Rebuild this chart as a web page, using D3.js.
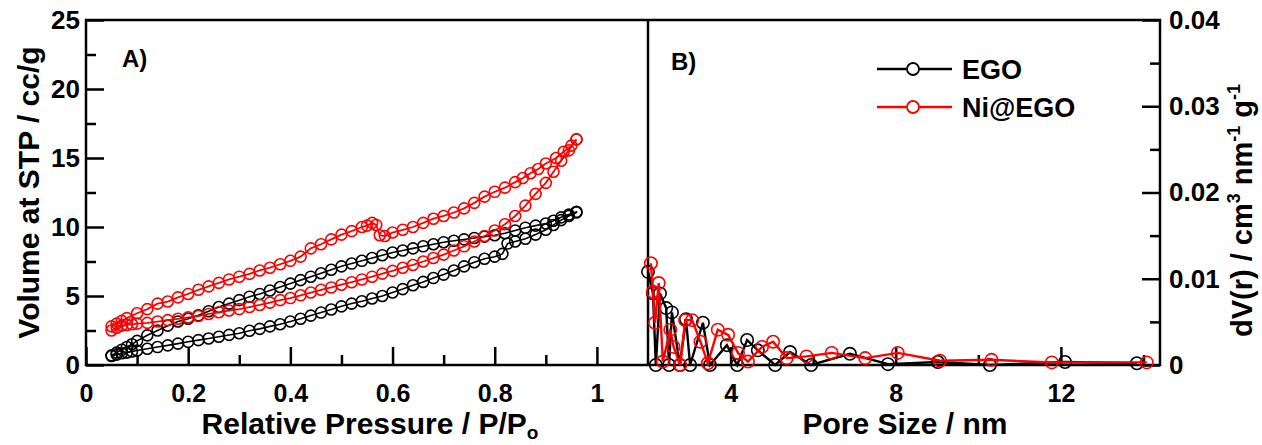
<!DOCTYPE html>
<html>
<head>
<meta charset="utf-8">
<script src="https://cdn.jsdelivr.net/npm/d3@7"></script>
<style>
body{margin:0;background:#fff}
text{font-family:"Liberation Sans",Arial,sans-serif;font-weight:bold;fill:#000}
</style>
</head>
<body>
<svg id="mainSVG"></svg>
<script>
// isotherms, [P/Po, cc/g]
let egoAds = [[0.05,0.65],[0.06,0.75],[0.07,0.85],[0.08,0.9],[0.09,0.98],[0.10,1.05],[0.12,1.18],[0.14,1.3],[0.16,1.42],[0.18,1.55],[0.20,1.68],[0.22,1.8],[0.24,1.92],[0.26,2.05],[0.28,2.18],[0.30,2.3],[0.32,2.48],[0.34,2.62],[0.36,2.8],[0.38,2.95],[0.40,3.15],[0.42,3.35],[0.44,3.58],[0.46,3.8],[0.48,4.02],[0.50,4.25],[0.52,4.45],[0.54,4.62],[0.56,4.82],[0.58,5.0],[0.60,5.25],[0.62,5.5],[0.64,5.78],[0.66,6.02],[0.68,6.3],[0.70,6.55],[0.72,6.85],[0.74,7.15],[0.76,7.45],[0.78,7.7],[0.80,7.85],[0.815,8.05],[0.825,8.8],[0.84,8.95],[0.86,9.15],[0.88,9.45],[0.90,9.8],[0.915,10.15],[0.93,10.5],[0.945,10.8],[0.96,11.05]]
let egoDes = [[0.96,11.1],[0.945,10.9],[0.93,10.7],[0.915,10.45],[0.90,10.25],[0.88,10.1],[0.86,9.95],[0.84,9.75],[0.82,9.55],[0.80,9.4],[0.78,9.3],[0.76,9.2],[0.74,9.1],[0.72,9.0],[0.70,8.9],[0.68,8.75],[0.66,8.6],[0.64,8.45],[0.62,8.3],[0.60,8.15],[0.58,7.95],[0.56,7.75],[0.54,7.55],[0.52,7.35],[0.50,7.15],[0.48,6.9],[0.46,6.65],[0.44,6.4],[0.42,6.15],[0.40,5.9],[0.38,5.65],[0.36,5.4],[0.34,5.15],[0.32,4.95],[0.30,4.7],[0.28,4.45],[0.26,4.2],[0.24,3.9],[0.22,3.6],[0.20,3.35],[0.18,3.15],[0.16,2.85],[0.14,2.5],[0.12,2.15],[0.10,1.75],[0.09,1.5],[0.08,1.3],[0.07,1.1],[0.06,0.9],[0.05,0.7]]
let niAds = [[0.05,2.5],[0.06,2.7],[0.07,2.85],[0.08,2.9],[0.09,2.95],[0.10,3.0],[0.12,3.05],[0.14,3.15],[0.16,3.25],[0.18,3.35],[0.20,3.45],[0.22,3.55],[0.24,3.7],[0.26,3.82],[0.28,3.95],[0.30,4.05],[0.32,4.2],[0.34,4.35],[0.36,4.52],[0.38,4.7],[0.40,4.85],[0.42,5.05],[0.44,5.25],[0.46,5.45],[0.48,5.62],[0.50,5.82],[0.52,6.0],[0.54,6.2],[0.56,6.4],[0.58,6.62],[0.60,6.82],[0.62,7.05],[0.64,7.25],[0.66,7.5],[0.68,7.75],[0.70,8.0],[0.72,8.3],[0.74,8.6],[0.76,8.95],[0.78,9.35],[0.80,9.75],[0.82,10.2],[0.84,10.8],[0.86,11.55],[0.88,12.4],[0.90,13.2],[0.915,14.0],[0.93,14.8],[0.945,15.55],[0.96,16.35]]
let niDes = [[0.96,16.35],[0.95,15.9],[0.935,15.45],[0.92,15.0],[0.90,14.6],[0.885,14.2],[0.87,13.9],[0.855,13.55],[0.84,13.25],[0.82,12.85],[0.80,12.55],[0.78,12.2],[0.76,11.75],[0.74,11.35],[0.72,11.05],[0.70,10.8],[0.68,10.6],[0.66,10.3],[0.64,10.0],[0.62,9.8],[0.60,9.6],[0.585,9.35],[0.575,9.4],[0.568,10.15],[0.56,10.3],[0.55,10.1],[0.54,10.0],[0.52,9.7],[0.50,9.45],[0.48,9.1],[0.46,8.75],[0.44,8.45],[0.42,7.85],[0.40,7.55],[0.38,7.3],[0.36,7.05],[0.34,6.85],[0.32,6.6],[0.30,6.4],[0.28,6.2],[0.26,5.95],[0.24,5.7],[0.22,5.45],[0.20,5.15],[0.18,4.9],[0.16,4.6],[0.14,4.45],[0.12,4.05],[0.10,3.75],[0.08,3.4],[0.07,3.2],[0.06,3.0],[0.05,2.8]]

// pore size distribution, [nm, cm3/nm/g]
let egoPsd = [[2.0,0.0108],[2.12,0.0083],[2.19,0],[2.29,0.0083],[2.44,0.0066],[2.51,0],[2.58,0.0061],[2.77,0],[2.92,0.0053],[3.02,0],[3.33,0.0049],[3.5,0],[3.91,0.0023],[4.16,0],[4.4,0.0029],[4.66,0.0017],[5.08,0],[5.44,0.0015],[5.95,0],[6.89,0.0013],[7.81,0.0001],[9.02,0.00035],[10.28,0],[12.1,0.00035],[13.84,0.0002]]
let niPsd = [[2.07,0.0118],[2.12,0.0085],[2.17,0.0049],[2.26,0.0095],[2.36,0.0004],[2.54,0.0041],[2.62,0.0021],[2.78,0],[2.9,0.0052],[3.07,0.0052],[3.27,0.0027],[3.45,0.0002],[3.69,0.0041],[3.94,0.0035],[4.18,0.0014],[4.42,0.0004],[4.76,0.0021],[5.03,0.0027],[5.36,0.0008],[5.84,0.001],[6.45,0.0014],[7.26,0.0008],[8.05,0.0014],[9.07,0.0005],[10.32,0.0006],[11.78,0.0003],[14.08,0.0003]]

let seriesNames = ['EGO', 'Ni@EGO']
let seriesColors = ['#000', '#f00']

let leftTicks = [0, 0.2, 0.4, 0.6, 0.8, 1]
let leftMinor = [0.1, 0.3, 0.5, 0.7, 0.9]
let volTicks = [0, 5, 10, 15, 20, 25]
let volMinor = [2.5, 7.5, 12.5, 17.5, 22.5]
let poreTicks = [4, 8, 12]
let poreMinor = [6, 10, 14]
let dvTicks = [0, 0.01, 0.02, 0.03, 0.04]
let dvMinor = [0.005, 0.015, 0.025, 0.035]

let w = 1262, h = 445
let m = {t: 20, b: 365, l: 86, mid: 648, r: 1160}

let svg = d3.select('#mainSVG').attr('width', w).attr('height', h)

let xP = d3.scaleLinear().domain([0, 1.1]).range([m.l, m.mid])
let yV = d3.scaleLinear().domain([0, 25]).range([m.b, m.t])
let xR = d3.scaleLinear().domain([2, 14.4]).range([m.mid, m.r])
let yD = d3.scaleLinear().domain([0, 0.04]).range([m.b, m.t])

// ticks point inward (negative size), labels stay outside
function tickAxis(axis, vals, size, pad, transform){
    let g = svg.append('g')
        .attr('transform', transform)
        .call(axis.tickValues(vals).tickSizeInner(size).tickSizeOuter(0).tickPadding(pad))
    g.select('.domain').remove()
    g.selectAll('line').attr('stroke', '#000').attr('stroke-width', 2.5)
    g.selectAll('text').attr('font-size', 25)
    return g
}

let fmt = d => d3.format('~g')(d)
tickAxis(d3.axisBottom(xP).tickFormat(fmt), leftTicks, -18, 19, `translate(0,${m.b})`)
tickAxis(d3.axisBottom(xP).tickFormat(''), leftMinor, -10, 0, `translate(0,${m.b})`)
tickAxis(d3.axisBottom(xR).tickFormat(fmt), poreTicks, -18, 19, `translate(0,${m.b})`)
tickAxis(d3.axisBottom(xR).tickFormat(''), poreMinor, -10, 0, `translate(0,${m.b})`)

tickAxis(d3.axisLeft(yV).tickFormat(fmt), volTicks, -18, 6, `translate(${m.l},0)`)
    .selectAll('text').attr('font-size', 26)
tickAxis(d3.axisLeft(yV).tickFormat(''), volMinor, -10, 0, `translate(${m.l},0)`)
tickAxis(d3.axisRight(yD).tickFormat(fmt), dvTicks, -18, 9, `translate(${m.r},0)`)
    .selectAll('text').attr('font-size', 26)
tickAxis(d3.axisRight(yD).tickFormat(''), dvMinor, -10, 0, `translate(${m.r},0)`)

// frame and divider
svg.append('rect')
    .attr('x', m.l).attr('y', m.t)
    .attr('width', m.r - m.l).attr('height', m.b - m.t)
    .attr('fill', 'none').attr('stroke', '#000').attr('stroke-width', 2.5)
svg.append('line')
    .attr('x1', m.mid).attr('x2', m.mid).attr('y1', m.t).attr('y2', m.b)
    .attr('stroke', '#000').attr('stroke-width', 2.5)

function drawSeries(data, x, y, color, r, sw){
    let g = svg.append('g')
    g.append('path')
        .datum(data)
        .attr('fill', 'none')
        .attr('stroke', color)
        .attr('stroke-width', sw)
        .attr('d', d3.line().x(d => x(d[0])).y(d => y(d[1])))
    g.selectAll('circle')
        .data(data)
        .join('circle')
        .attr('cx', d => x(d[0]))
        .attr('cy', d => y(d[1]))
        .attr('r', r)
        .attr('fill', 'none')
        .attr('stroke', color)
        .attr('stroke-width', 1.6)
}

drawSeries(egoAds.concat(egoDes), xP, yV, seriesColors[0], 5.5, 1.6)
drawSeries(niAds.concat(niDes), xP, yV, seriesColors[1], 5.5, 1.8)
drawSeries(egoPsd, xR, yD, seriesColors[0], 6.2, 2.4)
drawSeries(niPsd, xR, yD, seriesColors[1], 6.2, 2.4)

// panel letters
svg.append('text').attr('x', 122).attr('y', 67).attr('font-size', 24).text('A)')
svg.append('text').attr('x', 671).attr('y', 70).attr('font-size', 24).text('B)')

// legend
seriesNames.forEach((name, i) => {
    let yy = 69 + i * 38
    svg.append('line').attr('x1', 877).attr('x2', 952).attr('y1', yy).attr('y2', yy)
        .attr('stroke', seriesColors[i]).attr('stroke-width', 2.4)
    svg.append('circle').attr('cx', 913).attr('cy', yy).attr('r', 6)
        .attr('fill', '#fff').attr('stroke', seriesColors[i]).attr('stroke-width', 1.8)
    svg.append('text').attr('x', 962).attr('y', yy + 10).attr('font-size', 27).text(name)
})

// axis titles
let xt = svg.append('text').attr('x', 370).attr('y', 434)
    .attr('text-anchor', 'middle').attr('font-size', 30)
xt.append('tspan').text('Relative Pressure / P/P')
xt.append('tspan').attr('font-size', 19).attr('dy', 5).text('o')

svg.append('text').attr('x', 905).attr('y', 434)
    .attr('text-anchor', 'middle').attr('font-size', 30).text('Pore Size / nm')

svg.append('text')
    .attr('transform', `translate(39,${(m.t + m.b) / 2}) rotate(-90)`)
    .attr('text-anchor', 'middle').attr('font-size', 30)
    .text('Volume at STP / cc/g')

let yt = svg.append('text')
    .attr('transform', `translate(1252,${(m.t + m.b) / 2 + 18}) rotate(-90)`)
    .attr('text-anchor', 'middle').attr('font-size', 29)
yt.append('tspan').text('dV(r) / cm')
yt.append('tspan').attr('font-size', 18).attr('dy', -12).text('3')
yt.append('tspan').attr('dy', 12).text(' nm')
yt.append('tspan').attr('font-size', 18).attr('dy', -12).text('-1')
yt.append('tspan').attr('dy', 12).text(' g')
yt.append('tspan').attr('font-size', 18).attr('dy', -12).text('-1')
</script>
</body>
</html>
